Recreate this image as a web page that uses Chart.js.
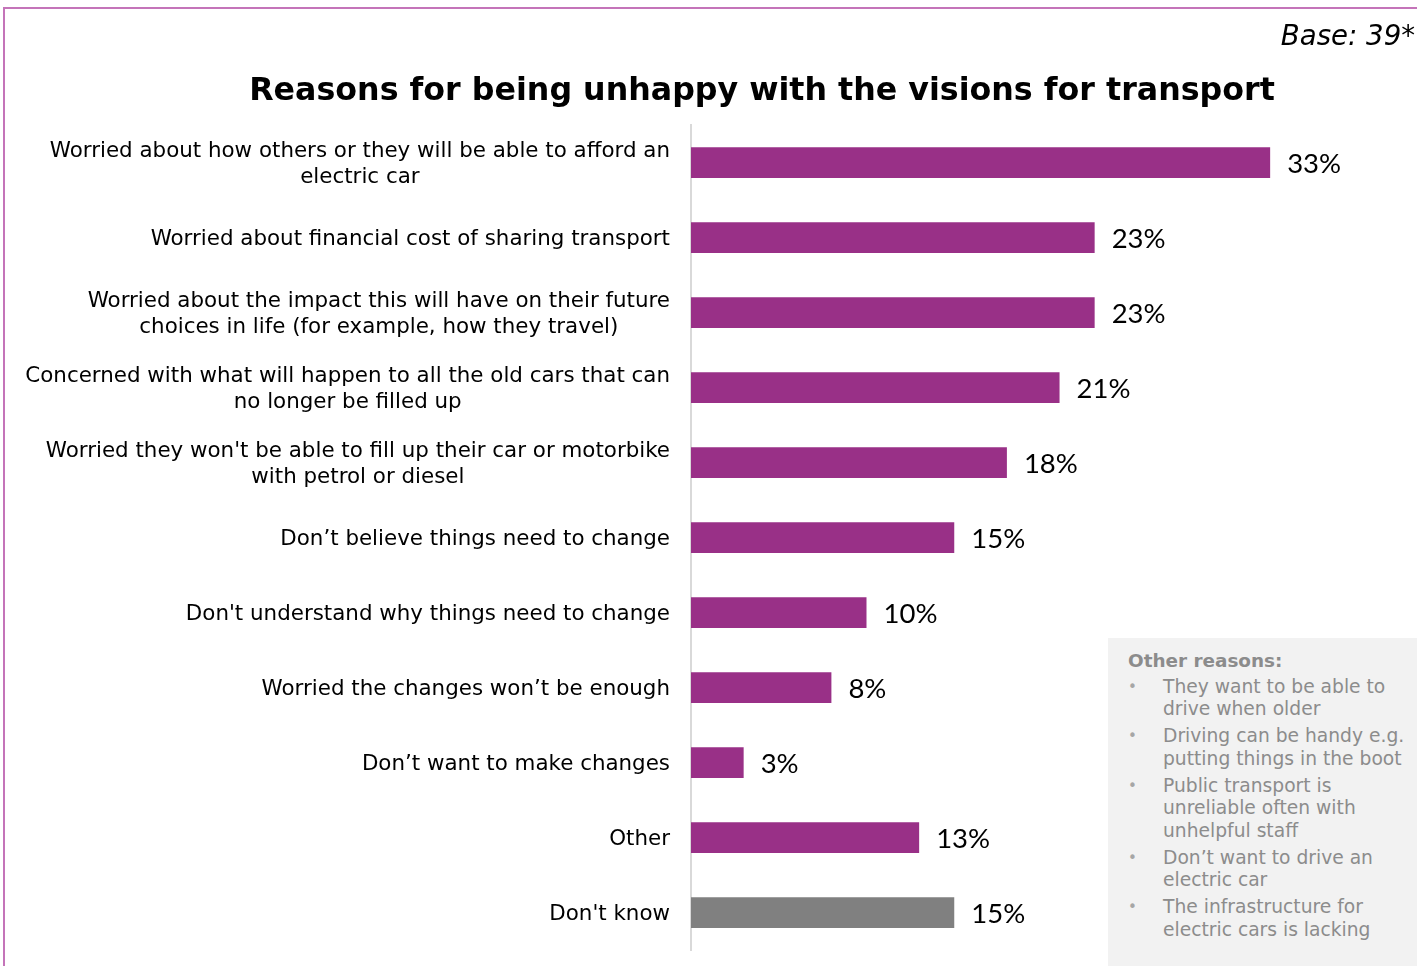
<!DOCTYPE html>
<html>
<head>
<meta charset="utf-8">
<script src="https://cdn.jsdelivr.net/npm/chart.js@4"></script>
<style>
  html, body { margin: 0; padding: 0; background: #fff; }
  #wrap { position: relative; width: 1417px; height: 966px; overflow: hidden; font-family: "DejaVu Sans", Verdana, sans-serif; }
  #frame { position: absolute; left: 3px; top: 7px; right: 0; bottom: 0; border-top: 2px solid #c474b9; border-left: 2px solid #c474b9; }
  #chart { position: absolute; left: 0; top: 0; }
  #title { position: absolute; left: 762px; top: 69px; transform: translateX(-50%); white-space: nowrap; font-weight: bold; font-size: 31.7px; line-height: 40px; color: #000; }
  #base { position: absolute; right: 2px; top: 21px; font-style: italic; font-size: 27.6px; line-height: 30px; color: #000; }
  #other { position: absolute; left: 1108px; top: 638px; width: 309px; height: 328px; background: #f2f2f2; color: #8c8c8c; font-size: 18.7px; line-height: 22.5px; box-sizing: border-box; padding-top: 11.5px; }
  #other h4 { margin: 0 0 3.5px 20px; font-size: 18.4px; font-weight: bold; line-height: 22.5px; }
  #other .item { position: relative; padding-left: 55px; margin-bottom: 4.5px; white-space: nowrap; }
  #other .item span { position: absolute; left: 20px; top: 0; color: #a6a6a6; font-size: 15px; }
</style>
</head>
<body>
<div id="wrap">
  <div id="frame"></div>
  <canvas id="chart" width="1417" height="966"></canvas>
  <div id="title">Reasons for being unhappy with the visions for transport</div>
  <div id="base">Base: 39*</div>
  <div id="other"></div>
</div>
<script>
const categories = [
  ["Worried about how others or they will be able to afford an", "electric car"],
  "Worried about financial cost of sharing transport",
  ["Worried about the impact this will have on their future", "choices in life (for example, how they travel)"],
  ["Concerned with what will happen to all the old cars that can", "no longer be filled up"],
  ["Worried they won't be able to fill up their car or motorbike", "with petrol or diesel"],
  "Don\u2019t believe things need to change",
  "Don't understand why things need to change",
  "Worried the changes won\u2019t be enough",
  "Don\u2019t want to make changes",
  "Other",
  "Don't know"
];
const percentages = [33, 23, 23, 21, 18, 15, 10, 8, 3, 13, 15];
const otherHeading = "Other reasons:";
const otherReasons = [
  ["They want to be able to", "drive when older"],
  ["Driving can be handy e.g.", "putting things in the boot"],
  ["Public transport is", "unreliable often with", "unhelpful staff"],
  ["Don\u2019t want to drive an", "electric car"],
  ["The infrastructure for", "electric cars is lacking"]
];

const PURPLE = "#993087";
const GREY = "#808080";
const barColors = categories.map(c => c === "Don't know" ? GREY : PURPLE);

// side box listing the "other" answers
const box = document.getElementById("other");
let html = "<h4>" + otherHeading + "</h4>";
otherReasons.forEach(lines => {
  html += '<div class="item"><span>\u2022</span>' + lines.join("<br>") + "</div>";
});
box.innerHTML = html;

// category labels: block right-aligned against the axis, lines centred inside the block
const categoryLabels = {
  id: "categoryLabels",
  afterDraw(chart) {
    const ctx = chart.ctx;
    const yScale = chart.scales.y;
    const right = yScale.right - 21;
    ctx.save();
    ctx.font = '21.4px "DejaVu Sans"';
    ctx.fillStyle = "#000";
    ctx.textAlign = "center";
    ctx.textBaseline = "middle";
    categories.forEach((label, i) => {
      const lines = Array.isArray(label) ? label : [label];
      const w = Math.max(...lines.map(l => ctx.measureText(l).width));
      const cx = right - w / 2;
      const yc = yScale.getPixelForValue(i) + 2;
      lines.forEach((line, j) => {
        ctx.fillText(line, cx, yc + (j - (lines.length - 1) / 2) * 26);
      });
    });
    ctx.restore();
  }
};

// percentage next to each bar
const valueLabels = {
  id: "valueLabels",
  afterDatasetsDraw(chart) {
    const ctx = chart.ctx;
    ctx.save();
    ctx.font = '27.5px Lato';
    ctx.fillStyle = "#000";
    ctx.textAlign = "left";
    ctx.textBaseline = "middle";
    chart.getDatasetMeta(0).data.forEach((bar, i) => {
      ctx.fillText(percentages[i] + "%", bar.x + 17, bar.y + 2);
    });
    ctx.restore();
  }
};

new Chart(document.getElementById("chart"), {
  type: "bar",
  data: {
    labels: categories,
    datasets: [{
      data: percentages,
      backgroundColor: barColors,
      borderWidth: 0,
      categoryPercentage: 1,
      barPercentage: 0.41
    }]
  },
  options: {
    indexAxis: "y",
    responsive: false,
    animation: false,
    layout: { padding: { top: 125, bottom: 16, left: 0, right: 24 } },
    plugins: {
      legend: { display: false },
      tooltip: { enabled: false }
    },
    scales: {
      x: { display: false, min: 0, max: 40 },
      y: {
        afterFit(scale) { scale.width = 691; },
        ticks: { display: false },
        grid: { display: false },
        border: { display: true, color: "#d9d9d9", width: 2 }
      }
    }
  },
  plugins: [categoryLabels, valueLabels]
});
</script>
</body>
</html>
